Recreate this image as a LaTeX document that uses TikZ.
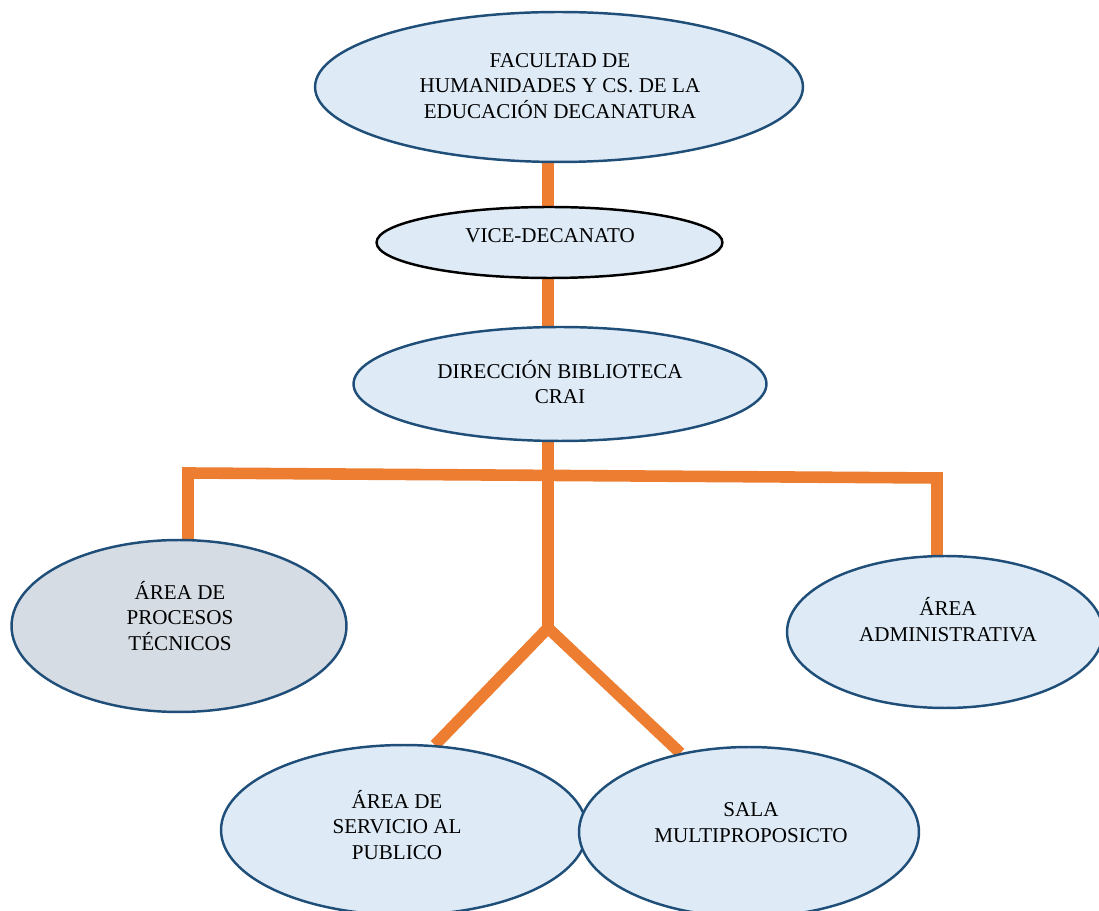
\documentclass[tikz,border=0pt]{standalone}
\usepackage{fontspec}
\setmainfont{Liberation Serif}
\usetikzlibrary{shapes.geometric}
\pgfdeclarelayer{background}
\pgfsetlayers{background,main}
\definecolor{orgline}{HTML}{ED7D31}
\definecolor{bluebord}{HTML}{1F4E79}
\definecolor{bluefill}{HTML}{DEEAF6}
\definecolor{grayfill}{HTML}{D6DCE4}
\tikzset{
  unit/.style={ellipse, draw=bluebord, line width=1.4pt, fill=bluefill, inner sep=0pt},
  lbl/.style={align=center, font=\fontsize{12}{14.7}\selectfont, text=black},
  link/.style={draw=orgline, line width=6.6pt, line cap=butt, line join=miter}
}
\begin{document}
\begin{tikzpicture}[x=0.02cm,y=-0.02cm]
\useasboundingbox (0,0) rectangle (1099,911);
% ellipses
\node[unit, minimum width=9.76cm, minimum height=3.0cm] (fac) at (559,87) {};
\node[unit, draw=black, minimum width=6.92cm, minimum height=1.42cm] (vice) at (549.5,242.5) {};
\node[unit, minimum width=8.26cm, minimum height=2.28cm] (dir) at (560,384) {};
\node[unit, fill=grayfill, minimum width=6.70cm, minimum height=3.44cm] (proc) at (179,626) {};
\node[unit, minimum width=6.32cm, minimum height=3.04cm] (adm) at (945,632) {};
\node[unit, minimum width=7.32cm, minimum height=3.40cm] (serv) at (404,830) {};
\node[unit, minimum width=6.80cm, minimum height=3.40cm] (sala) at (749,832) {};
% texts
\node[lbl] (tfac) at (560,86) {FACULTAD DE\\HUMANIDADES Y CS. DE LA\\EDUCACIÓN DECANATURA};
\node[lbl] (tvice) at (550,236) {VICE-DECANATO};
\node[lbl] (tdir) at (560,382) {DIRECCIÓN BIBLIOTECA\\CRAI};
\node[lbl] (tproc) at (180,616) {ÁREA DE\\PROCESOS\\TÉCNICOS};
\node[lbl] (tadm) at (948,620) {ÁREA\\ADMINISTRATIVA};
\node[lbl] (tserv) at (397,825) {ÁREA DE\\SERVICIO AL\\PUBLICO};
\node[lbl] (tsala) at (751,823) {SALA\\MULTIPROPOSICTO};
% connector coordinates
\coordinate (spine) at (548,0);
\coordinate (hl) at (188,473);
\coordinate (hr) at (937,478);
\coordinate (hm) at (548,475);
\coordinate (junc) at (548,628);
\begin{pgfonlayer}{background}
\draw[link] (fac.south -| spine) -- (vice.north -| spine);
\draw[link] (vice.south -| spine) -- (dir.north -| spine);
\draw[link] (dir.south -| spine) -- (hm) -- (junc);
\draw[link] (hl |- proc.north) -- (hl) -- (hr) -- (hr |- adm.north);
\draw[link] (junc) -- (serv.70);
\draw[link] (junc) -- (sala.131);
\end{pgfonlayer}
\end{tikzpicture}
\end{document}
